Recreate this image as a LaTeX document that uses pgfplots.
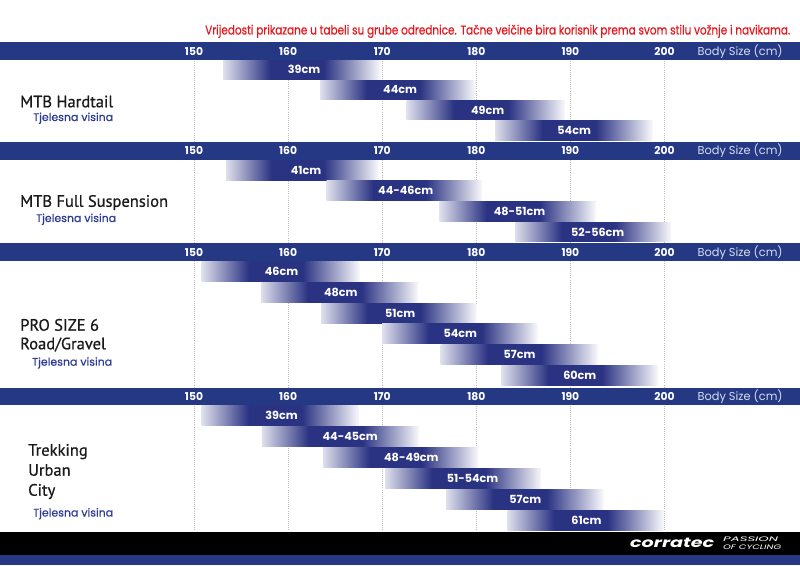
\documentclass[border=0pt]{standalone}
\usepackage{fontspec}
\setmainfont{PT Sans}
\newfontfamily\pop{Poppins}
\newfontfamily\popm{Poppins}[FakeBold=0.6]
\newfontfamily\ttlf{PT Sans}[FakeBold=0.7]
\usepackage{graphicx}
\usepackage{pgfplots}
\pgfplotsset{compat=1.18}
\definecolor{hdr}{RGB}{37,56,132}
\definecolor{bn}{RGB}{42,50,130}
\colorlet{bl}{bn!15}
\colorlet{br}{bn!3}
\definecolor{redt}{RGB}{232,22,28}
\definecolor{subc}{RGB}{45,58,150}
\definecolor{gridc}{RGB}{190,190,190}
\definecolor{bodyc}{RGB}{214,221,242}
\pgfdeclarehorizontalshading{barfade}{100bp}{color(0bp)=(bl); color(25bp)=(bl); color(40bp)=(bn); color(57bp)=(bn); color(75bp)=(br); color(100bp)=(br)}
\tikzset{
  lbl/.style={inner sep=0pt, text=white, font=\pop\bfseries\fontsize{11.2}{12}\selectfont},
  hnum/.style={inner sep=0pt, anchor=base, text=white, font=\pop\bfseries\fontsize{10.8}{12}\selectfont},
  ttl/.style={inner sep=0pt, anchor=base west, text=black!90, font=\ttlf\fontsize{16.5}{18}\selectfont},
  sub/.style={inner sep=0pt, anchor=base west, text=subc, font=\popm\fontsize{11}{12}\selectfont},
}
% bar: x1 x2 ytop ybot xlabel ylabel label
\newcommand\szbar[7]{%
  \addplot[draw=none, shade, shading=barfade] coordinates {(#1,#3) (#2,#3) (#2,#4) (#1,#4)};
  \node[lbl] at (axis cs:#5,#6) {#7};
}
% header bar: ytop ybot baseline
\newcommand\hdrbar[3]{%
  \addplot[draw=none, fill=hdr] coordinates {(129.38,#1) (214.40,#1) (214.40,#2) (129.38,#2)};
  \node[hnum] at (axis cs:150,#3) {150};
  \node[hnum] at (axis cs:160,#3) {160};
  \node[hnum] at (axis cs:170,#3) {170};
  \node[hnum] at (axis cs:180,#3) {180};
  \node[hnum] at (axis cs:190,#3) {190};
  \node[hnum] at (axis cs:200,#3) {200};
  \node[inner sep=0pt, anchor=base west, text=bodyc] at (axis cs:203.5,#3) {\resizebox{85pt}{\height}{\pop\fontsize{11.5}{12}\selectfont Body Size (cm)}};
}
\begin{document}
\begin{tikzpicture}
\begin{axis}[
  at={(0,0)}, anchor=south west,
  width=800pt, height=565pt, scale only axis,
  hide axis, clip=false,
  xmin=129.38, xmax=214.40, ymin=0, ymax=565, y dir=reverse,
]
% grid lines
\addplot[gridc, line width=0.6pt, dash pattern=on 0.8pt off 1.3pt] coordinates {(150,59) (150,532)};
\addplot[gridc, line width=0.6pt, dash pattern=on 0.8pt off 1.3pt] coordinates {(160,59) (160,532)};
\addplot[gridc, line width=0.6pt, dash pattern=on 0.8pt off 1.3pt] coordinates {(170,59) (170,532)};
\addplot[gridc, line width=0.6pt, dash pattern=on 0.8pt off 1.3pt] coordinates {(180,59) (180,532)};
\addplot[gridc, line width=0.6pt, dash pattern=on 0.8pt off 1.3pt] coordinates {(190,59) (190,532)};
\addplot[gridc, line width=0.6pt, dash pattern=on 0.8pt off 1.3pt] coordinates {(200,59) (200,532)};
% headers
\hdrbar{42}{59.5}{55}
\hdrbar{141.5}{159.5}{154.8}
\hdrbar{243}{261}{256.3}
\hdrbar{388}{405}{400.8}
% MTB Hardtail
\szbar{153.1}{169.8}{60}{79.5}{161.7}{69.75}{39cm}
\szbar{163.4}{179.9}{80.2}{99.7}{171.9}{89.95}{44cm}
\szbar{172.6}{189.4}{100.4}{119.9}{181.2}{110.15}{49cm}
\szbar{182.0}{198.7}{120.6}{140.1}{190.4}{130.35}{54cm}
% MTB Full Suspension
\szbar{153.4}{169.6}{160.3}{180.1}{161.9}{170.2}{41cm}
\szbar{164.1}{180.6}{180.9}{200.7}{172.5}{190.8}{44-46cm}
\szbar{176.1}{192.7}{201.5}{221.3}{184.6}{211.4}{48-51cm}
\szbar{184.1}{200.7}{222.1}{241.9}{192.9}{232.0}{52-56cm}
% PRO SIZE 6 Road/Gravel
\szbar{150.8}{167.6}{261.5}{281.5}{159.3}{271.5}{46cm}
\szbar{157.1}{173.8}{282.3}{302.3}{165.6}{292.3}{48cm}
\szbar{163.5}{180.0}{303.1}{323.1}{171.9}{313.1}{51cm}
\szbar{170.0}{186.5}{323.9}{343.9}{178.3}{333.9}{54cm}
\szbar{176.2}{192.9}{344.7}{364.7}{184.6}{354.7}{57cm}
\szbar{182.7}{199.3}{365.5}{385.5}{191.0}{375.5}{60cm}
% Trekking Urban City
\szbar{150.8}{167.5}{405.8}{425.8}{159.3}{415.8}{39cm}
\szbar{157.2}{173.9}{426.65}{446.65}{166.6}{436.65}{44-45cm}
\szbar{163.7}{180.2}{447.5}{467.5}{173.1}{457.5}{48-49cm}
\szbar{170.3}{186.9}{468.35}{488.35}{179.6}{478.35}{51-54cm}
\szbar{176.8}{193.5}{489.2}{509.2}{185.2}{499.2}{57cm}
\szbar{183.3}{199.9}{510.05}{530.05}{191.7}{520.05}{61cm}
% footer
\addplot[draw=none, fill=black] coordinates {(129.38,532) (214.40,532) (214.40,555) (129.38,555)};
\addplot[draw=none, fill=hdr] coordinates {(129.38,555) (214.40,555) (214.40,565) (129.38,565)};
\end{axis}
\begin{scope}[x=1pt, y=-1pt, yshift=565pt]
\node[inner sep=0pt, anchor=base west, text=redt] at (205,34.5) {\resizebox{585pt}{\height}{\popm\fontsize{12.8}{14}\selectfont Vrijedosti prikazane u tabeli su grube odrednice. Tačne veičine bira korisnik prema svom stilu vožnje i navikama.}};
\node[ttl] at (20,107.3) {MTB Hardtail};
\node[sub] at (33,121) {Tjelesna visina};
\node[ttl] at (20,206.8) {MTB Full Suspension};
\node[sub] at (36,222) {Tjelesna visina};
\node[ttl] at (20,330.7) {PRO SIZE 6};
\node[ttl] at (20,349.3) {Road/Gravel};
\node[sub] at (32,365.7) {Tjelesna visina};
\node[ttl] at (28,455.7) {Trekking};
\node[ttl] at (28,475.7) {Urban};
\node[ttl] at (28,495.7) {City};
\node[sub] at (33,516.5) {Tjelesna visina};
\node[inner sep=0pt, anchor=base west, text=white] at (630,547.5) {\resizebox{84pt}{\height}{\pop\bfseries\itshape\fontsize{13.5}{14}\selectfont corratec}};
\node[inner sep=0pt, anchor=base west, text=white] at (723,541.5) {\resizebox{55pt}{\height}{\pop\itshape\fontsize{6.5}{7}\selectfont PASSION}};
\node[inner sep=0pt, anchor=base west, text=white] at (723,549.5) {\resizebox{58pt}{\height}{\pop\itshape\fontsize{6.5}{7}\selectfont OF CYCLING}};
\end{scope}
\pgfresetboundingbox
\path[use as bounding box] (0,0) rectangle (800pt,565pt);
\end{tikzpicture}
\end{document}
